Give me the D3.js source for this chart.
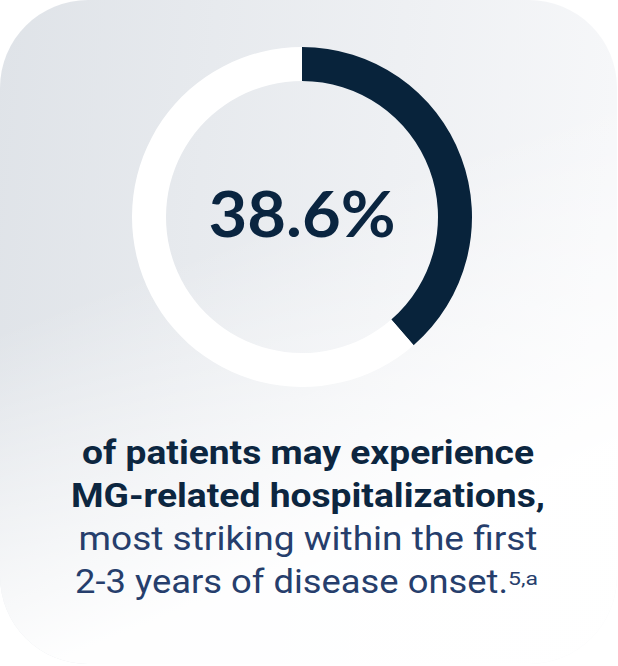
<!DOCTYPE html>
<html>
<head>
<meta charset="utf-8">
<script src="https://cdn.jsdelivr.net/npm/d3@7"></script>
<style>
  body { margin: 0; background: #ffffff; }
  svg { display: block; }
</style>
</head>
<body>
<svg id="card_svg" width="618" height="666"></svg>
<script>
// chart values
const slice_labels = ['Hospitalized', 'Not hospitalized'];
const slice_values = [38.6, 61.4];
const slice_colors = ['#08233b', '#ffffff'];
const center_label = '38.6%';

// caption lines
const caption_text = [
  'of patients may experience',
  'MG-related hospitalizations,',
  'most striking within the first',
  '2-3 years of disease onset.'
];
const caption_bold = [true, true, false, false];
const caption_width = [452, 474, 459, 433];
const footnote_ref = '5,a';

const width = 618;
const height = 666;

let svg = d3.select('#card_svg');

/**
 * Card background: horizontal grey gradient, fading to white toward the bottom
 */
let defs = svg.append('defs');
let grad = defs.append('linearGradient')
  .attr('id', 'card_grad')
  .attr('gradientUnits', 'userSpaceOnUse')
  .attr('x1', 0).attr('y1', 0)
  .attr('x2', 618).attr('y2', 60);
grad.append('stop').attr('offset', 0).attr('stop-color', '#dfe3e8');
grad.append('stop').attr('offset', 1).attr('stop-color', '#f6f7f9');

let fade = defs.append('linearGradient')
  .attr('id', 'card_fade')
  .attr('gradientUnits', 'userSpaceOnUse')
  .attr('x1', 0).attr('y1', 330)
  .attr('x2', 120).attr('y2', 640);
fade.append('stop').attr('offset', 0).attr('stop-color', '#ffffff').attr('stop-opacity', 0);
fade.append('stop').attr('offset', 1).attr('stop-color', '#ffffff').attr('stop-opacity', 0.97);

svg.selectAll('.card_bg')
  .data(['url(#card_grad)', 'url(#card_fade)'])
  .enter()
  .append('rect')
  .attr('class', 'card_bg')
  .attr('x', 0)
  .attr('y', 0)
  .attr('width', width - 1)
  .attr('height', 664)
  .attr('rx', 88)
  .attr('ry', 88)
  .attr('fill', (d) => d);

/**
 * Donut ring
 */
const cx = 302;
const cy = 217;
const outer_r = 170;
const inner_r = 136;

let pie = d3.pie().sort(null).value((d) => d);
let arc = d3.arc().innerRadius(inner_r).outerRadius(outer_r);

let g_donut = svg.append('g')
  .attr('transform', 'translate(' + cx + ',' + cy + ')');

g_donut.selectAll('.donut_slice')
  .data(pie(slice_values))
  .enter()
  .append('path')
  .attr('class', 'donut_slice')
  .attr('d', arc)
  .attr('fill', (d, i) => slice_colors[i])
  .append('title')
  .text((d, i) => slice_labels[i] + ': ' + slice_values[i] + '%');

g_donut.append('text')
  .attr('x', 0)
  .attr('y', 20)
  .attr('text-anchor', 'middle')
  .attr('font-family', 'Lato, sans-serif')
  .attr('font-weight', 700)
  .attr('font-size', 63)
  .attr('fill', '#0a2540')
  .attr('textLength', 187)
  .attr('lengthAdjust', 'spacingAndGlyphs')
  .text(center_label);

/**
 * Caption below the ring
 */
const line_y = d3.scaleLinear().domain([0, 3]).range([464, 593]);

svg.selectAll('.caption_line')
  .data(caption_text)
  .enter()
  .append('text')
  .attr('class', 'caption_line')
  .attr('x', (d, i) => i === 3 ? 75 : 308)
  .attr('y', (d, i) => line_y(i))
  .attr('text-anchor', (d, i) => i === 3 ? 'start' : 'middle')
  .attr('font-family', 'Roboto, sans-serif')
  .attr('font-weight', (d, i) => caption_bold[i] ? 700 : 400)
  .attr('font-size', 34)
  .attr('fill', (d, i) => caption_bold[i] ? '#0c2640' : '#263e6c')
  .attr('textLength', (d, i) => caption_width[i])
  .attr('lengthAdjust', 'spacingAndGlyphs')
  .text((d) => d);

svg.append('text')
  .attr('x', 508)
  .attr('y', 585)
  .attr('font-family', 'Roboto, sans-serif')
  .attr('font-size', 19)
  .attr('fill', '#263e6c')
  .attr('textLength', 30)
  .attr('lengthAdjust', 'spacingAndGlyphs')
  .text(footnote_ref);
</script>
</body>
</html>
